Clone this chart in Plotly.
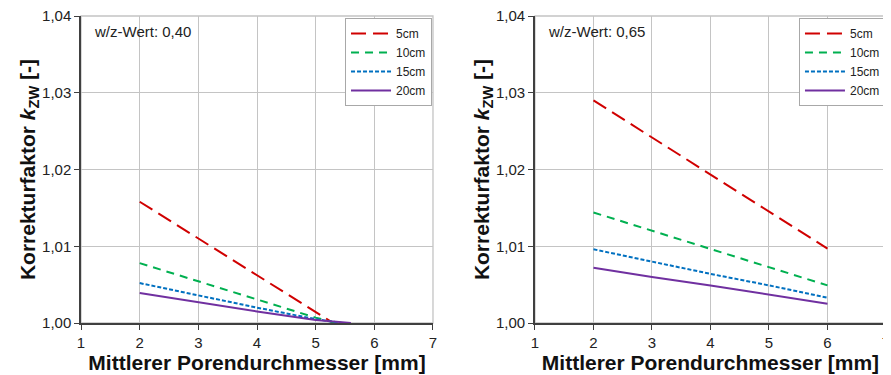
import plotly.graph_objects as go

# ---- data ----
series_names = ["5cm", "10cm", "15cm", "20cm"]
colors = ["#d00000", "#00b050", "#0070c0", "#7030a0"]
dashes = ["15px,7px", "8px,6px", "4px,2px", "solid"]

# w/z 0,40
left_x = [
    [2, 3, 4, 5, 5.3],
    [2, 3, 4, 5, 5.35],
    [2, 3, 4, 5, 5.45],
    [2, 3, 4, 5, 5.6],
]
left_y = [
    [1.0158, 1.0110, 1.0062, 1.0014, 1.0000],
    [1.0078, 1.0054, 1.0030, 1.0007, 1.0000],
    [1.0052, 1.0036, 1.0020, 1.0005, 1.0000],
    [1.0039, 1.0027, 1.0015, 1.0004, 1.0000],
]

# w/z 0,65
right_x = [2, 3, 4, 5, 6]
right_y = [
    [1.0290, 1.0242, 1.0194, 1.0146, 1.0097],
    [1.0144, 1.0120, 1.0096, 1.0072, 1.0049],
    [1.0096, 1.0080, 1.0064, 1.0049, 1.0033],
    [1.0072, 1.0060, 1.0049, 1.0037, 1.0025],
]

x_ticks = [1, 2, 3, 4, 5, 6, 7]
y_ticks = [1.00, 1.01, 1.02, 1.03, 1.04]
labels = ["w/z-Wert: 0,40", "w/z-Wert: 0,65"]

fig = go.Figure()
for i, name in enumerate(series_names):
    fig.add_trace(go.Scatter(
        x=left_x[i], y=left_y[i], mode="lines", name=name,
        line=dict(color=colors[i], dash=dashes[i], width=2),
        xaxis="x", yaxis="y", legend="legend"))
for i, name in enumerate(series_names):
    fig.add_trace(go.Scatter(
        x=right_x, y=right_y[i], mode="lines", name=name,
        line=dict(color=colors[i], dash=dashes[i], width=2),
        xaxis="x2", yaxis="y2", legend="legend2"))

font = "Liberation Sans, Arial, sans-serif"
grid_col = "#c4c4c4"
ax_common = dict(
    range=[1, 7], tickvals=x_ticks, showgrid=True, gridcolor=grid_col, gridwidth=1.3,
    showline=True, linecolor="#404040", linewidth=1.5, ticks="outside", ticklen=5,
    tickcolor="#404040", tickfont=dict(size=15, color="#222", family=font),
    zeroline=False, automargin=False, ticklabeloverflow="allow",
    title=dict(text="Mittlerer Porendurchmesser [mm]",
               font=dict(size=21, color="#111", family=font, weight="bold"), standoff=0),
)
ay_common = dict(
    range=[1.0, 1.04], tickvals=y_ticks, tickformat=".2f", showgrid=True,
    gridcolor=grid_col, gridwidth=1.3, showline=True, linecolor="#404040", linewidth=1.5,
    ticks="outside", ticklen=5, tickcolor="#404040",
    tickfont=dict(size=15, color="#222", family=font), zeroline=False, automargin=False,
    ticklabeloverflow="allow",
    title=dict(text="Korrekturfaktor <i>k</i><sub>ZW</sub> [-]",
               font=dict(size=21, color="#111", family=font, weight="bold"), standoff=0),
)

legend_common = dict(
    bgcolor="white", bordercolor="#a8a8a8", borderwidth=1,
    font=dict(size=12, color="#222", family=font), xanchor="right", yanchor="top",
    tracegroupgap=0, itemwidth=40,
)

frame = lambda xr, yr: dict(type="rect", xref=xr + " domain", yref=yr + " domain",
                             x0=0, x1=1, y0=0, y1=1, layer="below",
                             line=dict(color=grid_col, width=1.3))

fig.update_layout(
    width=883, height=367,
    margin=dict(l=0, r=0, t=8, b=52),
    paper_bgcolor="white", plot_bgcolor="white",
    separators=", ",
    font=dict(family=font),
    xaxis=dict(domain=[0.0827, 0.4813], anchor="y", **ax_common),
    yaxis=dict(domain=[0, 1], anchor="x", **ay_common),
    xaxis2=dict(domain=[0.5968, 0.9943], anchor="y2", **ax_common),
    yaxis2=dict(domain=[0, 1], anchor="x2", **ay_common),
    legend=dict(x=0.4802, y=0.9935, **legend_common),
    legend2=dict(x=0.9943, y=0.9935, **legend_common),
    shapes=[frame("x", "y"), frame("x2", "y2")],
    annotations=[
        dict(text=labels[0], xref="x domain", yref="y domain", x=0.03, y=0.951,
             xanchor="left", yanchor="middle", showarrow=False,
             font=dict(size=15, color="#222", family=font)),
        dict(text=labels[1], xref="x2 domain", yref="y2 domain", x=0.03, y=0.951,
             xanchor="left", yanchor="middle", showarrow=False,
             font=dict(size=15, color="#222", family=font)),
    ],
)

fig.write_html("out.html")
